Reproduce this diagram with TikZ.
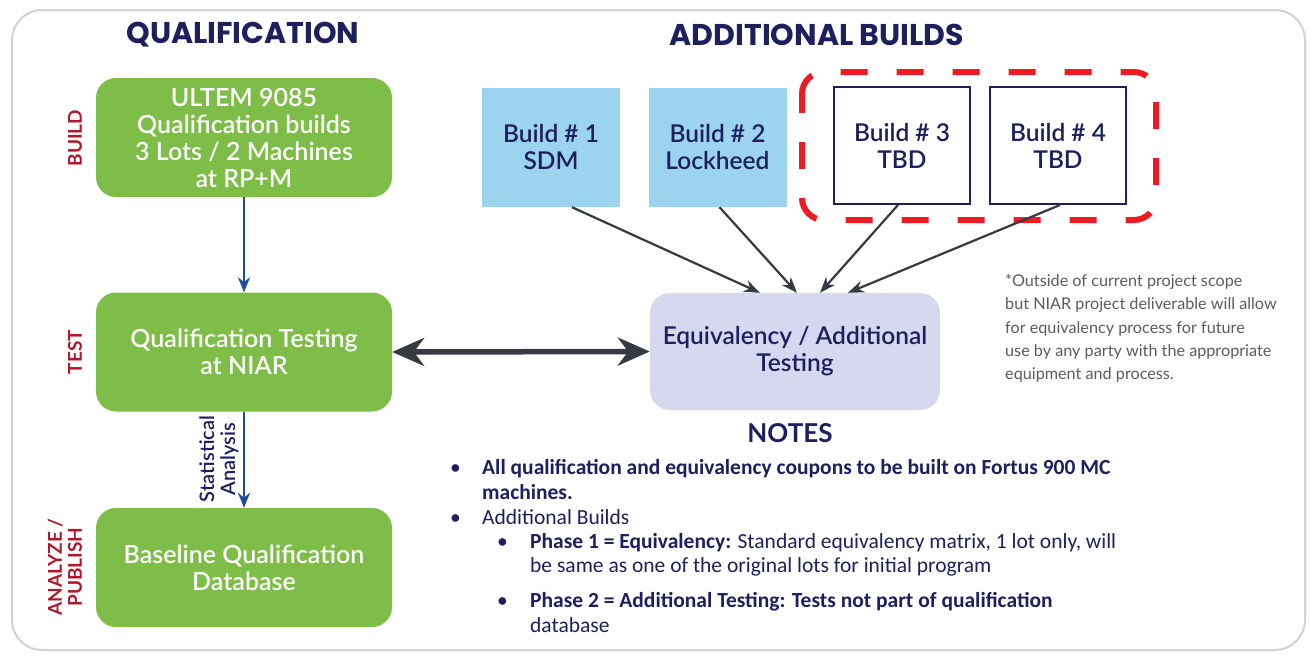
\documentclass[tikz,border=0pt]{standalone}
\usepackage{fontspec}
\setmainfont{Lato}
\newfontfamily\headfont{Poppins}
\newfontfamily\notefont{Carlito}
\newfontfamily\medfont{Lato Semibold}
\usetikzlibrary{arrows.meta}

\definecolor{navy}{HTML}{1E1F5E}
\definecolor{qgreen}{HTML}{7DBD48}
\definecolor{lblue}{HTML}{9CD3EE}
\definecolor{lav}{HTML}{D5D8EE}
\definecolor{dred}{HTML}{AE1A2C}
\definecolor{brred}{HTML}{EC1C24}
\definecolor{arrgray}{HTML}{363942}
\definecolor{flowblue}{HTML}{1F4C9B}
\definecolor{framegray}{HTML}{D2D2D2}
\definecolor{notegray}{HTML}{5C5C5C}

\tikzset{
  greenbox/.style={fill=qgreen, rounded corners=20pt, minimum width=296pt, minimum height=119pt,
    text=white, align=center, font=\medfont\fontsize{25}{27}\selectfont, inner sep=0pt},
  bluebox/.style={fill=lblue, minimum width=138pt, minimum height=119pt,
    text=navy, align=center, font=\medfont\fontsize{24.5}{27}\selectfont, inner sep=0pt},
  tbdbox/.style={draw=navy, line width=2pt, fill=white, minimum width=136pt, minimum height=117pt,
    text=navy, align=center, font=\medfont\fontsize{24.5}{27}\selectfont, inner sep=0pt},
  eqbox/.style={fill=lav, rounded corners=20pt, minimum width=290pt, minimum height=117pt,
    text=navy, align=center, font=\medfont\fontsize{24.5}{27}\selectfont, inner sep=0pt},
  heading/.style={text=navy, font=\headfont\fontsize{30}{32}\selectfont\bfseries},
  sidelabel/.style={text=dred, rotate=90, align=center, font=\fontsize{19}{20}\selectfont\bfseries},
  flow/.style={flowblue, line width=2pt, -{Stealth[length=15pt,width=12pt]}},
  feed/.style={arrgray, line width=2.2pt, -{Stealth[length=16pt,width=12pt]}},
  notetext/.style={anchor=base west, text=navy, inner sep=0pt, font=\notefont\fontsize{21.5}{23}\selectfont},
  footnote/.style={anchor=north west, text=notegray, align=left, inner sep=0pt,
    font=\fontsize{16.2}{23.3}\selectfont}
}

\begin{document}
\begin{tikzpicture}[x=1pt,y=-1pt]
\useasboundingbox (0,0) rectangle (1310,656);
\fill[white] (0,0) rectangle (1310,656);

% outer frame
\draw[framegray, line width=2pt, rounded corners=30pt] (12,10) rectangle (1305,650);

% column headings
\node[heading] (hq) at (243,35) {QUALIFICATION};
\node[heading] (ha) at (817,35) {ADDITIONAL BUILDS};

% qualification flow
\node[greenbox] (q1) at (244,137.5) {ULTEM 9085\\Qualification builds\\3 Lots / 2 Machines\\at RP+M};
\node[greenbox] (q2) at (244,352) {Qualification Testing\\at NIAR};
\node[greenbox] (q3) at (244,567.5) {Baseline Qualification\\Database};

\node[sidelabel] (lb) at (75,138) {BUILD};
\node[sidelabel] (lt) at (75,352) {TEST};
\node[sidelabel] (lp) at (65,567) {ANALYZE /\\PUBLISH};

\draw[flow] (q1) -- (q2);
\draw[flow] (q2) -- (q3);
\node[rotate=90, align=center, text=navy, font=\medfont\fontsize{20}{21}\selectfont] (sa) at (219,459) {Statistical\\Analysis};

% additional builds
\node[bluebox] (b1) at (551,147.5) {Build \# 1\\SDM};
\node[bluebox] (b2) at (717.5,147.5) {Build \# 2\\Lockheed};
\node[tbdbox] (b3) at (902,145.5) {Build \# 3\\TBD};
\node[tbdbox] (b4) at (1058,145.5) {Build \# 4\\TBD};
\draw[brred, line width=6pt, dash pattern=on 27pt off 29pt, dash phase=8pt, rounded corners=22pt]
  (802,72) rectangle (1156,220);

\node[eqbox] (eq) at (795,351.5) {Equivalency / Additional\\Testing};

\draw[feed] ([xshift=21pt]b1.south) -- ([xshift=-35pt]eq.north);
\draw[feed] ([xshift=2pt]b2.south) -- ([xshift=2pt]eq.north);
\draw[feed] ([xshift=-4pt]b3.south) -- ([xshift=25pt]eq.north);
\draw[feed] ([xshift=2pt]b4.south) -- ([xshift=53pt]eq.north);

\draw[arrgray, line width=5.5pt, {Stealth[length=32pt,width=28pt]}-{Stealth[length=32pt,width=28pt]}]
  (q2.east) -- (eq.west);

% scope remark
\node[footnote] (fn) at (1005,274) {*Outside of current project scope\\but NIAR project deliverable will allow\\for equivalency process for future\\use by any party with the appropriate\\equipment and process.};

% notes
\node[text=navy, font=\fontsize{26}{28}\selectfont\bfseries] (nt) at (790,433) {NOTES};
\node[notetext] (n1b) at (450,474) {•};
\node[notetext] (n1) at (482,474) {\bfseries All qualification and equivalency coupons to be built on Fortus 900 MC};
\node[notetext] (n2) at (482,499) {\bfseries machines.};
\node[notetext] (n3b) at (450,524) {•};
\node[notetext] (n3) at (482,524) {Additional Builds};
\node[notetext] (n4b) at (497,548) {•};
\node[notetext] (n4) at (530,548) {\bfseries Phase 1 = Equivalency: \mdseries Standard equivalency matrix, 1 lot only, will};
\node[notetext] (n5) at (530,572) {be same as one of the original lots for initial program};
\node[notetext] (n6b) at (497,607) {•};
\node[notetext] (n6) at (530,607) {\bfseries Phase 2 = Additional Testing: Tests not part of qualification};
\node[notetext] (n7) at (530,632) {database};
\end{tikzpicture}
\end{document}
